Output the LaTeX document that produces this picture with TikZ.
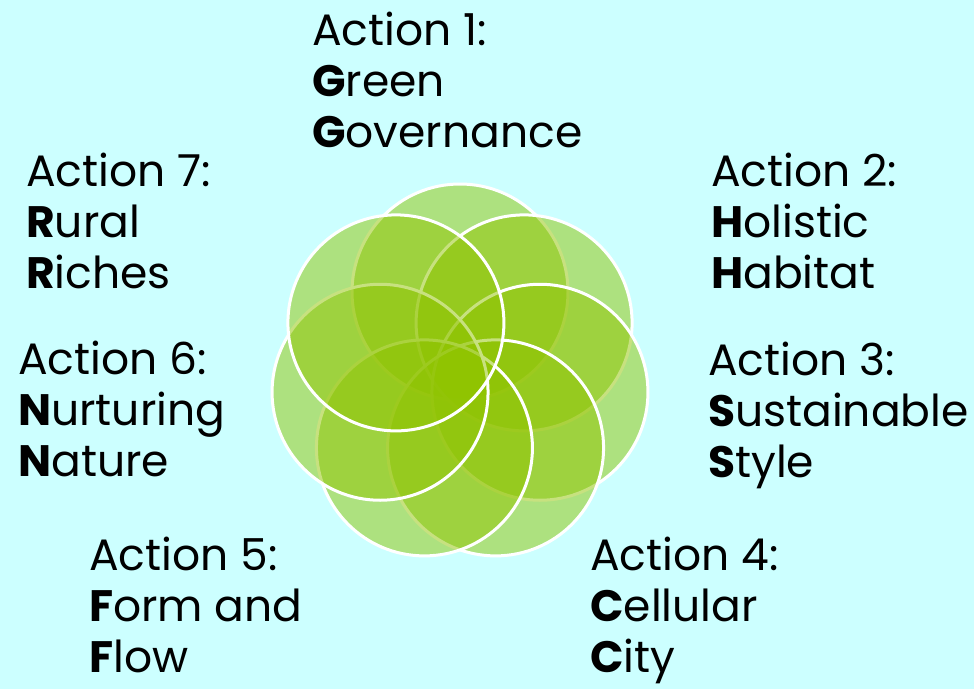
\documentclass[tikz,border=0pt]{standalone}
\usepackage{fontspec}
\setmainfont{Poppins}
\begin{document}
\begin{tikzpicture}[x=1pt,y=-1pt,
  petal/.style={fill=leaf,fill opacity=0.5,draw=white,draw opacity=1,line width=3pt},
  lbl/.style={anchor=base west,align=left,inner sep=0pt,
    font=\fontsize{44}{51}\selectfont,text=black}]
\definecolor{sky}{HTML}{CCFFFF}
\definecolor{leaf}{HTML}{90C400}
% backdrop
\fill[sky] (0,0) rectangle (974,689);
\useasboundingbox (0,0) rectangle (974,689);
% seven overlapping circles, drawn clockwise from the top
\foreach \k in {1,...,7}{
  \pgfmathsetmacro{\ang}{90-(\k-1)*360/7}
  \node[petal,circle,minimum size=216pt,inner sep=0pt] (c\k)
    at ({460+82*cos(\ang)},{374-82*sin(\ang)}) {};
}
% labels (anchored at the baseline of their last line)
\node[lbl] (a1) at (312,147) {Action 1:\\\textbf{G}reen\\\textbf{G}overnance};
\node[lbl] (a2) at (711,288) {Action 2:\\\textbf{H}olistic\\\textbf{H}abitat};
\node[lbl] (a3) at (708,477) {Action 3:\\\textbf{S}ustainable\\\textbf{S}tyle};
\node[lbl] (a4) at (590,672) {Action 4:\\\textbf{C}ellular\\\textbf{C}ity};
\node[lbl] (a5) at (89,672)  {Action 5:\\\textbf{F}orm and\\\textbf{F}low};
\node[lbl] (a6) at (18,476)  {Action 6:\\\textbf{N}urturing\\\textbf{N}ature};
\node[lbl] (a7) at (26,288)  {Action 7:\\\textbf{R}ural\\\textbf{R}iches};
\end{tikzpicture}
\end{document}
